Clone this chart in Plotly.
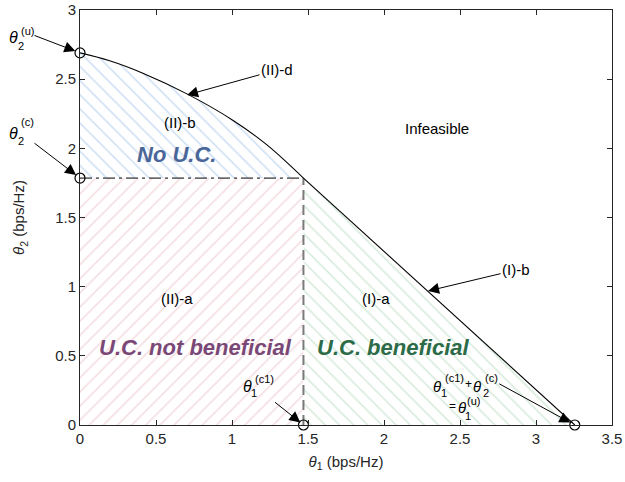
import plotly.graph_objects as go

# ---------------- data ----------------
curve_x = [0.0, 0.19, 0.41, 0.71, 1.01, 1.23, 1.47, 2.29, 2.73, 3.255]
curve_y = [2.69, 2.635, 2.545, 2.39, 2.20, 2.025, 1.785, 0.965, 0.525, 0.0]
theta2_u = 2.69
theta2_c = 1.785
theta1_c1 = 1.47
theta1_u = 3.255
x_ticks = [0, 0.5, 1, 1.5, 2, 2.5, 3, 3.5]
y_ticks = [0, 0.5, 1, 1.5, 2, 2.5, 3]
x_range = [0, 3.5]
y_range = [0, 3]

# ---------------- layout geometry ----------------
W, H = 625, 482
ML, MR, MT, MB = 80, 13, 10, 57
PW, PH = W - ML - MR, H - MT - MB
FONT = "Liberation Sans, Arial, Helvetica, sans-serif"
AX = "#262626"


def P(px, py):
    """pixel -> paper coordinates"""
    return (px - ML) / PW, (MT + PH - py) / PH


fig = go.Figure()

upper = [(x, y) for x, y in zip(curve_x, curve_y) if x <= theta1_c1]
lower = [(x, y) for x, y in zip(curve_x, curve_y) if x >= theta1_c1]

# ---------------- hatched regions ----------------
blue_x = [0.0] + [p[0] for p in upper]
blue_y = [theta2_c] + [p[1] for p in upper]
pink_x = [0.0, theta1_c1, theta1_c1, 0.0]
pink_y = [0.0, 0.0, theta2_c, theta2_c]
green_x = [theta1_c1] + [p[0] for p in lower]
green_y = [0.0] + [p[1] for p in lower]


def hatch(xs, ys, shape, color, smooth=False):
    fig.add_trace(go.Scatter(
        x=xs, y=ys, fill="toself", mode="lines", line=dict(width=0),
        fillcolor=color,
        fillpattern=dict(shape=shape, fgcolor=color, bgcolor="rgba(255,255,255,0)",
                         size=10, solidity=0.17),
        hoverinfo="skip", showlegend=False))


hatch(blue_x, blue_y, "\\", "#a3c3ea")
hatch(pink_x, pink_y, "/", "#ebbfc8")
hatch(green_x, green_y, "\\", "#b3dabc")

# ---------------- lines ----------------
fig.add_trace(go.Scatter(x=[0, theta1_c1], y=[theta2_c, theta2_c], mode="lines",
                         line=dict(color="black", width=1, dash="12px,4px,3px,4px"),
                         hoverinfo="skip", showlegend=False))
fig.add_trace(go.Scatter(x=[theta1_c1, theta1_c1], y=[0, theta2_c], mode="lines",
                         line=dict(color="#7a7a7a", width=2, dash="10px,5px"),
                         hoverinfo="skip", showlegend=False))
fig.add_trace(go.Scatter(x=[p[0] for p in upper], y=[p[1] for p in upper], mode="lines",
                         line=dict(color="black", width=1.1, shape="spline", smoothing=1.0),
                         hoverinfo="skip", showlegend=False))
fig.add_trace(go.Scatter(x=[p[0] for p in lower], y=[p[1] for p in lower], mode="lines",
                         line=dict(color="black", width=1.1),
                         hoverinfo="skip", showlegend=False))
fig.add_trace(go.Scatter(x=[0, 0, theta1_c1, theta1_u], y=[theta2_u, theta2_c, 0, 0],
                         mode="markers", cliponaxis=False,
                         marker=dict(symbol="circle-open", size=10, color="black",
                                     line=dict(width=1.2, color="black")),
                         hoverinfo="skip", showlegend=False))

# ---------------- annotations ----------------
ann = []


def txt(x, y, s, size=15, color="black", ref="x", bold=False, italic=False):
    t = s
    if bold:
        t = "<b>" + t + "</b>"
    if italic:
        t = "<i>" + t + "</i>"
    ann.append(dict(x=x, y=y, xref=ref if ref == "paper" else "x",
                    yref=ref if ref == "paper" else "y", text=t, showarrow=False,
                    font=dict(family=FONT, size=size, color=color),
                    xanchor="center", yanchor="middle"))


def ptxt(px, py, s, size=15, italic=False):
    x, y = P(px, py)
    txt(x, y, s, size=size, ref="paper", italic=italic)


def arrow(x, y, axp, ayp, text="", standoff=0):
    ann.append(dict(x=x, y=y, xref="x", yref="y", text=text, showarrow=True,
                    ax=axp, ay=ayp, axref="pixel", ayref="pixel",
                    arrowhead=2, arrowsize=2.2, arrowwidth=1, arrowcolor="black",
                    standoff=standoff,
                    font=dict(family=FONT, size=15, color="black")))


# region labels
txt(0.658, 2.19, "(II)-b")
txt(0.638, 1.952, "No U.C.", size=22, color="#4a6699", bold=True, italic=True)
txt(2.349, 2.147, "Infeasible")
txt(0.638, 0.918, "(II)-a")
txt(1.947, 0.918, "(I)-a")
txt(0.757, 0.557, "U.C. not beneficial", size=22, color="#7a4877", bold=True, italic=True)
txt(2.06, 0.557, "U.C. beneficial", size=22, color="#2c6b48", bold=True, italic=True)

# arrows with text
arrow(0.704, 2.386, 90, -25, "(II)-d")
arrow(2.29, 0.969, 88, -21, "(I)-b")
# plain arrows to the circles
arrow(0, theta2_u, -47, -18, standoff=5)
arrow(0, theta2_c, -47, -36, standoff=5)
arrow(theta1_c1, 0, -30, -24, standoff=4)
arrow(theta1_u, 0, -77, -42, standoff=5)

# theta_2^(u)
ptxt(13, 38, "θ", 16, italic=True)
ptxt(27, 31, "(u)", 11)
ptxt(21, 46, "2", 11)
# theta_2^(c)
ptxt(13, 133, "θ", 16, italic=True)
ptxt(27, 122, "(c)", 11)
ptxt(21, 141, "2", 11)
# theta_1^(c1)
ptxt(247, 386, "θ", 16, italic=True)
ptxt(264, 379, "(c1)", 11)
ptxt(254, 393, "1", 11)
# theta_1^(c1)+theta_2^(c) = theta_1^(u)
ptxt(437, 386, "θ", 15, italic=True)
ptxt(454, 378, "(c1)", 11)
ptxt(444, 393, "1", 11)
ptxt(468, 384, "+", 12)
ptxt(477, 386, "θ", 15, italic=True)
ptxt(491, 378, "(c)", 11)
ptxt(486, 393, "2", 11)
ptxt(452, 406, "=", 12)
ptxt(462, 407, "θ", 15, italic=True)
ptxt(473, 401, "(u)", 11)
ptxt(468, 416, "1", 11)

fig.update_layout(
    width=W, height=H,
    margin=dict(l=ML, r=MR, t=MT, b=MB, pad=0),
    paper_bgcolor="white", plot_bgcolor="white",
    font=dict(family=FONT, size=15, color=AX),
    annotations=ann,
    showlegend=False,
    xaxis=dict(range=x_range, tickvals=x_ticks, ticks="inside", ticklen=5,
               tickcolor=AX, showline=True, linecolor=AX, linewidth=1, mirror="ticks",
               showgrid=False, zeroline=False, tickfont=dict(size=15, color=AX),
               title=dict(text="<i>θ</i><sub>1</sub> (bps/Hz)", font=dict(size=15, color=AX),
                          standoff=10),
               automargin=False),
    yaxis=dict(range=y_range, tickvals=y_ticks, ticks="inside", ticklen=5,
               tickcolor=AX, showline=True, linecolor=AX, linewidth=1, mirror="ticks",
               showgrid=False, zeroline=False, tickfont=dict(size=15, color=AX),
               title=dict(text="<i>θ</i><sub>2</sub> (bps/Hz)", font=dict(size=15, color=AX),
                          standoff=26),
               automargin=False),
)

fig.write_html("out.html")
